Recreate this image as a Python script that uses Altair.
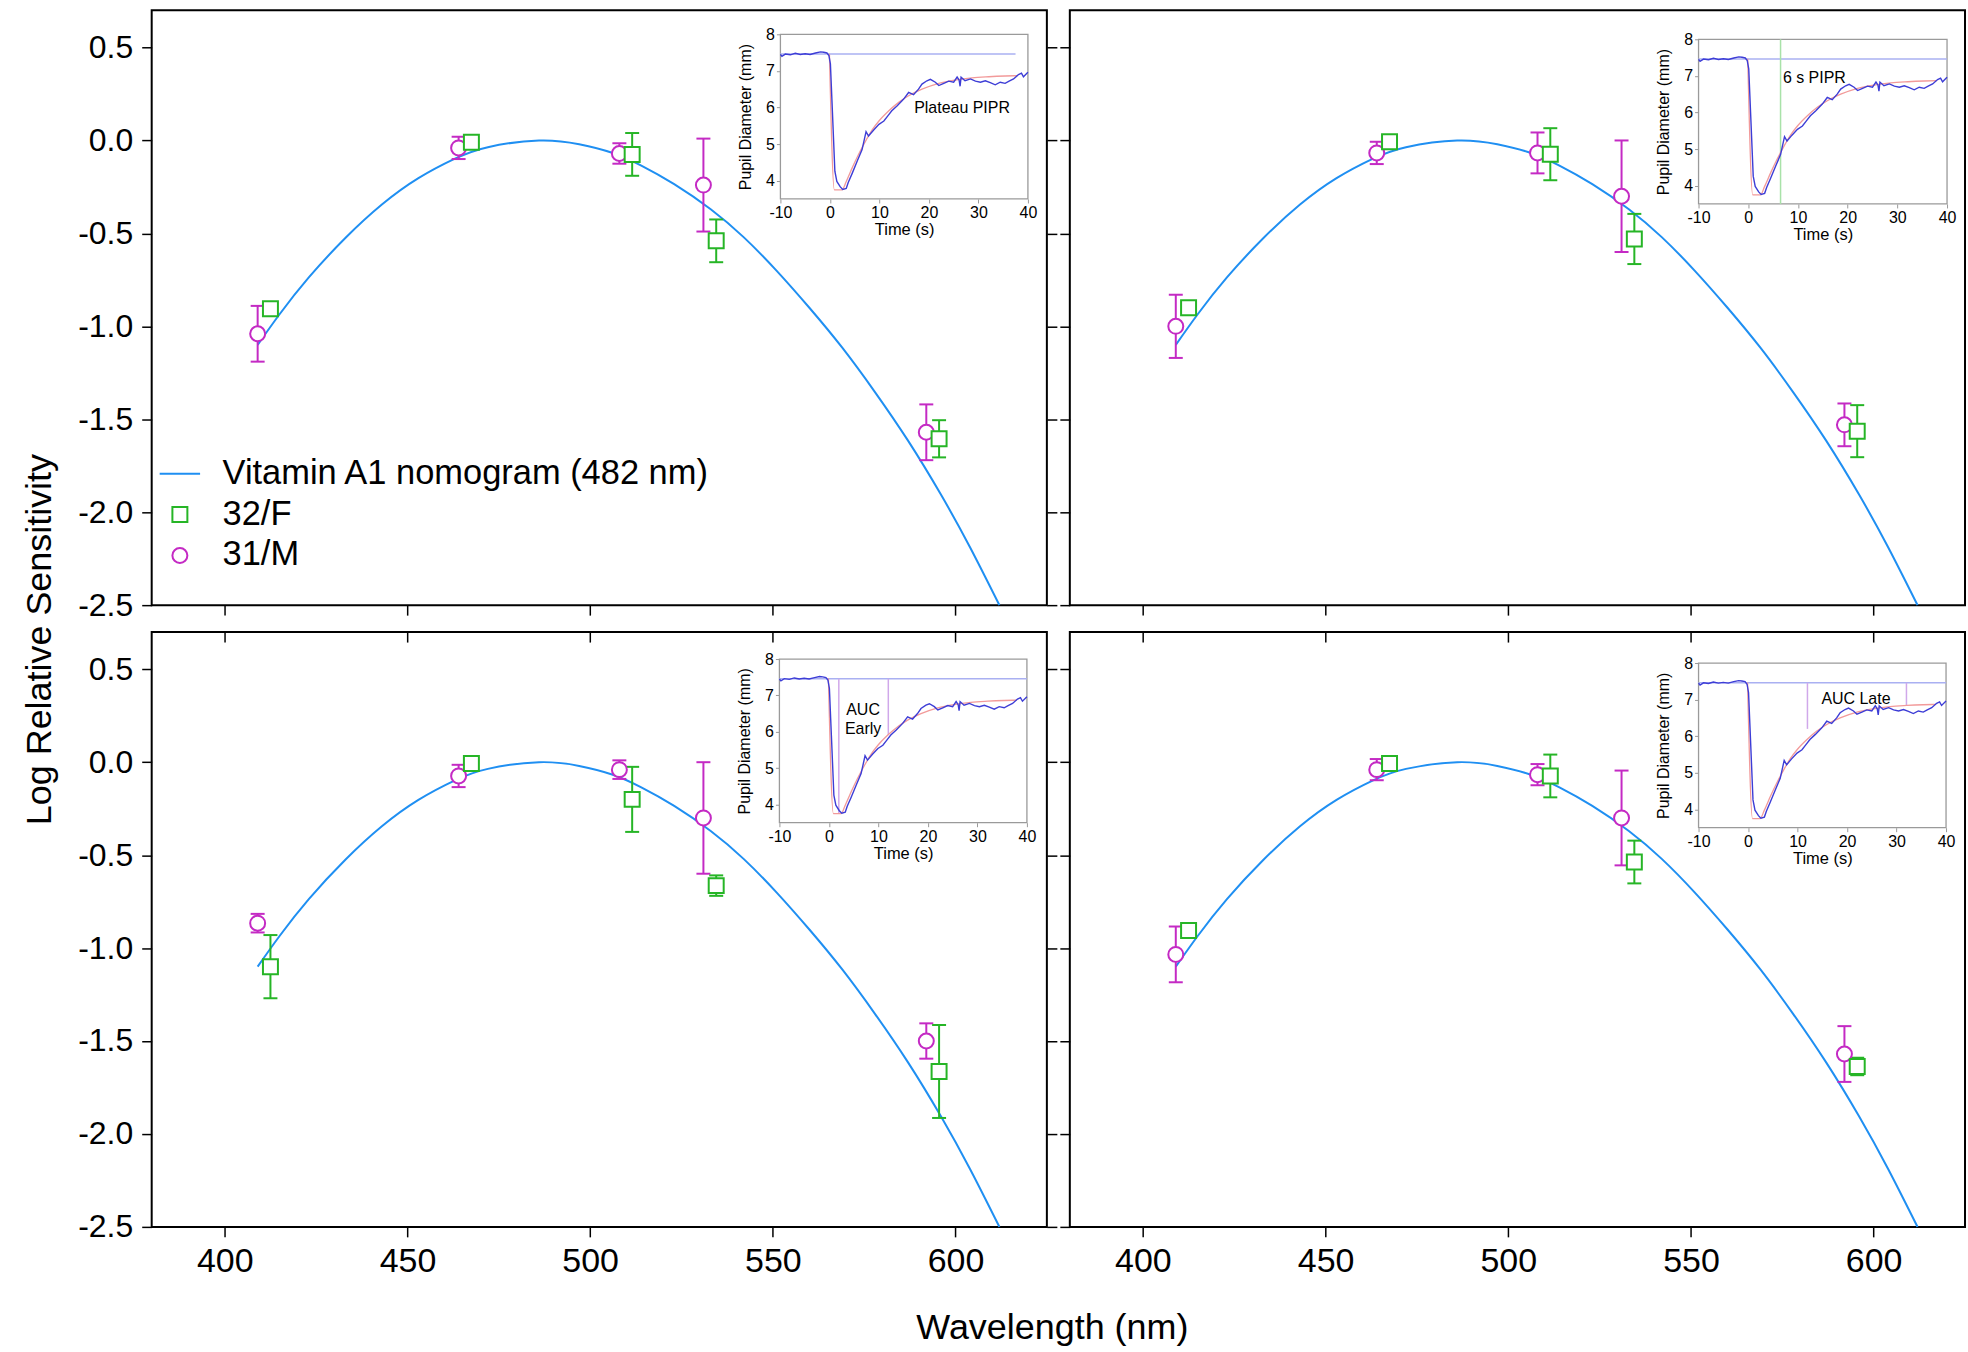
import altair as alt
import pandas as pd

FONT = "Liberation Sans"

# ---------------- legend / series ----------------
SERIES = ["Vitamin A1 nomogram (482 nm)", "32/F", "31/M"]
SERIES_COLORS = ["#1f8ff2", "#26b526", "#c42ac4"]
SERIES_SHAPES = ["M-2.7,0H2.7", "square", "circle"]

# ---------------- main panels ----------------
X_DOMAIN = [380, 625]
Y_DOMAIN = [-2.5, 0.7]
X_TICKS = [400, 450, 500, 550, 600]
Y_TICKS = [-2.5, -2.0, -1.5, -1.0, -0.5, 0.0, 0.5]

# Vitamin A1 nomogram curve
curve_nm = [409, 415, 423, 433, 443, 453, 463, 472, 486, 497, 506, 514, 523,
            533, 542, 551, 560, 569, 578, 587, 596, 604, 612]
curve_val = [-1.10, -0.935, -0.737, -0.525, -0.345, -0.203, -0.098, -0.036, 0.0,
             -0.02, -0.066, -0.135, -0.235, -0.37, -0.52, -0.70, -0.90,
             -1.115, -1.355, -1.615, -1.905, -2.19, -2.5]

# subject wavelengths (nm)
m_nm = [409, 464, 508, 531, 592]
f_nm = [412.5, 467.5, 511.5, 534.5, 595.5]

# panels: top-left, top-right, bottom-left, bottom-right
m_vals = [
    [-1.04, -0.04, -0.07, -0.24, -1.57],
    [-1.00, -0.067, -0.067, -0.30, -1.53],
    [-0.866, -0.074, -0.04, -0.30, -1.50],
    [-1.034, -0.04, -0.067, -0.30, -1.57],
]
m_errs = [
    [0.15, 0.06, 0.055, 0.25, 0.15],
    [0.17, 0.06, 0.11, 0.30, 0.115],
    [0.05, 0.06, 0.05, 0.30, 0.095],
    [0.15, 0.057, 0.057, 0.255, 0.15],
]
f_vals = [
    [-0.905, -0.01, -0.075, -0.54, -1.605],
    [-0.90, -0.007, -0.074, -0.53, -1.564],
    [-1.10, -0.007, -0.20, -0.664, -1.664],
    [-0.906, -0.007, -0.074, -0.537, -1.637],
]
f_errs = [
    [0.0, 0.0, 0.115, 0.115, 0.10],
    [0.0, 0.0, 0.14, 0.135, 0.14],
    [0.17, 0.0, 0.175, 0.055, 0.25],
    [0.0, 0.0, 0.115, 0.115, 0.047],
]

# ---------------- inset (pupil trace) ----------------
INSET_X_DOMAIN = [-10, 40]
INSET_Y_DOMAIN = [3.5, 8]
INSET_X_TICKS = [-10, 0, 10, 20, 30, 40]
INSET_Y_TICKS = [4, 5, 6, 7, 8]

trace_t = [-10, -9.7, -9, -8, -7, -6, -5, -4, -2.9, -1.9, -1.25, -0.6, -0.2, 0.1,
           0.5, 1.0, 1.4, 2.1, 2.6, 3.3, 3.7, 4.5, 5.5, 6.5, 7.3, 7.8, 8.8, 9.9,
           10.9, 11.7, 12.5, 13.6, 14.9, 15.9, 16.9, 17.9, 18.6, 19.6, 20.3, 21.3,
           22.0, 23.0, 24.0, 25.0, 25.7, 26.1, 26.3, 26.5, 27.3, 28.4, 29.4, 30.4,
           31.4, 32.4, 33.4, 34.4, 35.4, 36.2, 37.1, 38.1, 38.7, 39.1, 40.0]
trace_v = [7.45, 7.40, 7.46, 7.44, 7.48, 7.45, 7.47, 7.45, 7.49, 7.52, 7.51, 7.49,
           7.42, 7.19, 5.90, 4.26, 3.98, 3.83, 3.76, 3.79, 3.95, 4.20, 4.53, 4.85,
           5.34, 5.22, 5.38, 5.54, 5.63, 5.77, 5.91, 6.05, 6.23, 6.41, 6.35, 6.50,
           6.64, 6.73, 6.77, 6.69, 6.60, 6.66, 6.72, 6.69, 6.83, 6.75, 6.58, 6.83,
           6.73, 6.78, 6.72, 6.69, 6.73, 6.68, 6.62, 6.69, 6.66, 6.72, 6.78, 6.90,
           6.94, 6.84, 6.96]

fit_t = [-0.1, 0.9, 2.45, 3.3, 4.5, 5.8, 7.2, 8.5, 9.9, 11.9, 13.9, 15.9, 18.6,
         22.0, 25.3, 28.7, 32.1, 35.4, 38.0]
fit_v = [7.47, 3.75, 3.75, 3.98, 4.35, 4.72, 5.08, 5.38, 5.63, 5.91, 6.14, 6.32,
         6.50, 6.66, 6.75, 6.81, 6.84, 6.86, 6.87]

baseline_v = 7.46
baseline_end = [37.5, 40, 40, 40]

# vertical marker lines per panel: (time, from, to)
vline_t = [[], [6.5], [2.0, 12.0], [12.0, 32.0]]
vline_v0 = [[], [3.5], [7.46, 7.46], [7.46, 7.46]]
vline_v1 = [[], [8.0], [3.76, 5.91], [6.2, 6.84]]
vline_colors = ["#d0a8ea", "#a8e2a8", "#d0a8ea", "#d0a8ea"]

# annotation text per panel
note_text = [["Plateau PIPR"], ["6 s PIPR"], ["AUC", "Early"], ["AUC Late"]]
note_t = [[26.7], [13.3], [6.9, 6.9], [21.8]]
note_v = [[5.98], [6.95], [6.6, 6.07], [7.02]]

# layout (pixels)
PANEL_W = 897
PANEL_H = 596
CAP_PX = 14
# inset boxes inside each panel: left, right, top, bottom
INSET_BOX = [(630, 878, 24, 189), (630, 879, 29, 194), (629, 877, 27, 191), (630, 878, 31, 196)]


def lab_expr(fmt):
    return f"(datum.value < 0 ? '-' : '') + format(abs(datum.value), '{fmt}')"


def main_panel(i):
    bottom_row = i >= 2
    left_col = i % 2 == 0
    if i == 0:
        leg = alt.Legend(orient="none", legendX=11, legendY=447, title=None,
                         labelFont=FONT, labelFontSize=34.5, labelColor="black",
                         labelLimit=0, labelOffset=25.5, rowPadding=6, padding=0,
                         symbolSize=225, symbolStrokeWidth=2, symbolFillColor="white")
    else:
        leg = None

    cscale = alt.Scale(domain=SERIES, range=SERIES_COLORS)
    sscale = alt.Scale(domain=SERIES, range=SERIES_SHAPES)
    xs = alt.Scale(domain=X_DOMAIN, nice=False, zero=False)
    ys = alt.Scale(domain=Y_DOMAIN, nice=False, zero=False)

    xkw = dict(orient="bottom", values=X_TICKS, tickSize=10, tickWidth=1.5, tickColor="black",
               domain=False, grid=False, labels=bottom_row, labelFont=FONT, labelFontSize=34,
               labelColor="black", labelPadding=8, labelFlush=False, labelOverlap=False, title=None)
    if i == 2:
        xkw.update(title="Wavelength (nm)", titleFont=FONT, titleFontSize=36,
                   titleFontWeight="normal", titleColor="black", titleX=902, titleY=101,
                   titleAlign="center", titleBaseline="middle")
    ykw = dict(orient="left", values=Y_TICKS, tickSize=10, tickWidth=1.5, tickColor="black",
               domain=False, grid=False, labels=left_col, labelFont=FONT, labelFontSize=32,
               labelColor="black", labelPadding=9, labelOverlap=False,
               labelExpr=lab_expr(".1f"), title=None)
    if i == 2:
        ykw.update(title="Log Relative Sensitivity", titleFont=FONT, titleFontSize=36,
                   titleFontWeight="normal", titleColor="black", titleX=-112, titleY=7,
                   titleAngle=270, titleAlign="center", titleBaseline="middle")

    curve_df = pd.DataFrame({"nm": curve_nm, "val": curve_val, "series": SERIES[0]})

    rows = []
    for j in range(5):
        rows.append({"nm": m_nm[j], "val": m_vals[i][j], "err": m_errs[i][j], "series": "31/M"})
    for j in range(5):
        rows.append({"nm": f_nm[j], "val": f_vals[i][j], "err": f_errs[i][j], "series": "32/F"})
    pts = pd.DataFrame(rows)
    pts["lo"] = pts["val"] - pts["err"]
    pts["hi"] = pts["val"] + pts["err"]
    eb = pts[pts["err"] > 0].copy()
    half = (CAP_PX / 2) * (X_DOMAIN[1] - X_DOMAIN[0]) / PANEL_W
    caps = pd.concat([
        eb[["nm", "series"]].assign(cap=eb["lo"]),
        eb[["nm", "series"]].assign(cap=eb["hi"]),
    ])
    caps["c0"] = caps["nm"] - half
    caps["c1"] = caps["nm"] + half

    curve = alt.Chart(curve_df).mark_line(strokeWidth=2, interpolate="natural").encode(
        x=alt.X("nm:Q", scale=xs, axis=alt.Axis(**xkw)),
        y=alt.Y("val:Q", scale=ys, axis=alt.Axis(**ykw)),
        color=alt.Color("series:N", scale=cscale, legend=leg),
        order=alt.Order("nm:Q"),
    )
    rules = alt.Chart(eb).mark_rule(strokeWidth=2).encode(
        x=alt.X("nm:Q", scale=xs, axis=None),
        y=alt.Y("lo:Q", scale=ys, axis=None),
        y2="hi:Q",
        color=alt.Color("series:N", scale=cscale, legend=leg),
    )
    capm = alt.Chart(caps).mark_rule(strokeWidth=2).encode(
        x=alt.X("c0:Q", scale=xs, axis=None),
        x2="c1:Q",
        y=alt.Y("cap:Q", scale=ys, axis=None),
        color=alt.Color("series:N", scale=cscale, legend=leg),
    )
    points = alt.Chart(pts).mark_point(filled=False, fill="white", size=225, strokeWidth=2,
                                       opacity=1).encode(
        x=alt.X("nm:Q", scale=xs, axis=None),
        y=alt.Y("val:Q", scale=ys, axis=None),
        color=alt.Color("series:N", scale=cscale, legend=leg),
        shape=alt.Shape("series:N", scale=sscale, legend=leg),
    )
    layers = [curve, rules, capm, points]

    if bottom_row or left_col:
        if bottom_row:
            gx = alt.Axis(orient="top", values=X_TICKS, tickSize=10, tickWidth=1.5,
                          tickColor="black", domain=False, grid=False, labels=False,
                          title=None, offset=-10)
        else:
            gx = None
        if left_col:
            gy = alt.Axis(orient="right", values=Y_TICKS, tickSize=10, tickWidth=1.5,
                          tickColor="black", domain=False, grid=False, labels=False,
                          title=None)
        else:
            gy = None
        ghost = alt.Chart(curve_df).mark_point(opacity=0).encode(
            x=alt.X("nm:Q", scale=xs, axis=gx),
            y=alt.Y("val:Q", scale=ys, axis=gy),
        )
        layers.append(ghost)

    return alt.layer(*layers).resolve_axis(x="independent", y="independent")


def inset_panel(i):
    x0, x1, y0, y1 = INSET_BOX[i]
    ixs = alt.Scale(domain=INSET_X_DOMAIN, range=[x0, x1], nice=False, zero=False)
    iys = alt.Scale(domain=INSET_Y_DOMAIN, range=[y1, y0], nice=False, zero=False)

    ax = alt.Axis(orient="bottom", offset=y1 - PANEL_H, values=INSET_X_TICKS,
                  labelExpr=lab_expr("d"), tickSize=4, tickColor="#9a9a9a", tickWidth=1,
                  domain=False, grid=False, labelFont=FONT, labelFontSize=16,
                  labelColor="black", labelPadding=2, labelFlush=False, labelOverlap=False,
                  title="Time (s)", titleFont=FONT, titleFontSize=16.5,
                  titleFontWeight="normal", titleColor="black", titlePadding=1)
    ay = alt.Axis(orient="left", offset=-x0, values=INSET_Y_TICKS, tickSize=4,
                  tickColor="#9a9a9a", tickWidth=1, domain=False, grid=False,
                  labelFont=FONT, labelFontSize=16, labelColor="black", labelPadding=2,
                  labelOverlap=False, title="Pupil Diameter (mm)", titleFont=FONT,
                  titleFontSize=16, titleFontWeight="normal", titleColor="black",
                  titlePadding=12, titleLimit=400)

    frame_df = pd.DataFrame({"t0": [INSET_X_DOMAIN[0]], "t1": [INSET_X_DOMAIN[1]],
                             "v0": [INSET_Y_DOMAIN[0]], "v1": [INSET_Y_DOMAIN[1]]})
    trace_df = pd.DataFrame({"t": trace_t, "v": trace_v})
    fit_df = pd.DataFrame({"t": fit_t, "v": fit_v})
    base_df = pd.DataFrame({"t0": [INSET_X_DOMAIN[0]], "t1": [baseline_end[i]], "v": [baseline_v]})

    frame = alt.Chart(frame_df).mark_rect(fillOpacity=0, stroke="#9a9a9a", strokeWidth=1.3).encode(
        x=alt.X("t0:Q", scale=ixs, axis=ax),
        x2="t1:Q",
        y=alt.Y("v0:Q", scale=iys, axis=ay),
        y2="v1:Q",
    )
    base = alt.Chart(base_df).mark_rule(color="#aab0f2", strokeWidth=1.5).encode(
        x=alt.X("t0:Q", scale=ixs, axis=None), x2="t1:Q",
        y=alt.Y("v:Q", scale=iys, axis=None),
    )
    layers = [frame, base]
    if vline_t[i]:
        vdf = pd.DataFrame({"t": vline_t[i], "v0": vline_v0[i], "v1": vline_v1[i]})
        layers.append(alt.Chart(vdf).mark_rule(color=vline_colors[i], strokeWidth=1.5).encode(
            x=alt.X("t:Q", scale=ixs, axis=None),
            y=alt.Y("v0:Q", scale=iys, axis=None), y2="v1:Q",
        ))
    fit = alt.Chart(fit_df).mark_line(color="#f29a9a", strokeWidth=1.3, interpolate="monotone").encode(
        x=alt.X("t:Q", scale=ixs, axis=None),
        y=alt.Y("v:Q", scale=iys, axis=None),
    )
    trace = alt.Chart(trace_df).mark_line(color="#3d3dd6", strokeWidth=1.4).encode(
        x=alt.X("t:Q", scale=ixs, axis=None),
        y=alt.Y("v:Q", scale=iys, axis=None),
    )
    ndf = pd.DataFrame({"t": note_t[i], "v": note_v[i], "label": note_text[i]})
    note = alt.Chart(ndf).mark_text(font=FONT, fontSize=16, color="black", align="center",
                                    baseline="middle").encode(
        x=alt.X("t:Q", scale=ixs, axis=None),
        y=alt.Y("v:Q", scale=iys, axis=None),
        text="label:N",
    )
    layers += [fit, trace, note]
    return alt.layer(*layers).resolve_axis(x="independent", y="independent")


def panel(i):
    return alt.layer(main_panel(i), inset_panel(i)).resolve_scale(
        x="independent", y="independent"
    ).properties(width=PANEL_W, height=PANEL_H)


chart = alt.concat(
    *[panel(i) for i in range(4)],
    columns=2,
    spacing={"row": 27, "column": 23},
    bounds="flush",
).resolve_scale(color="independent", shape="independent").properties(
    padding={"left": 20, "top": 8, "right": 2, "bottom": 4},
    background="white",
).configure_view(stroke="black", strokeWidth=2)

chart.save("out.html", embed_options={"renderer": "svg", "actions": False})
